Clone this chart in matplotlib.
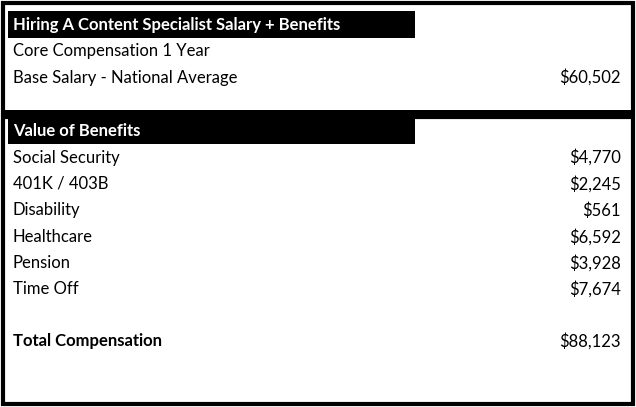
import matplotlib
matplotlib.use("Agg")
import matplotlib.pyplot as plt
from matplotlib.patches import Rectangle

title1 = "Hiring A Content Specialist Salary + Benefits"
top_labels = ["Core Compensation 1 Year", "Base Salary - National Average"]
top_values = ["", "$60,502"]
title2 = "Value of Benefits"
benefit_labels = ["Social Security", "401K / 403B", "Disability", "Healthcare", "Pension", "Time Off"]
benefit_values = ["$4,770", "$2,245", "$561", "$6,592", "$3,928", "$7,674"]
total_label = "Total Compensation"
total_value = "$88,123"

fig = plt.figure(figsize=(6.36, 4.07), dpi=100)
ax = fig.add_axes([0, 0, 1, 1])
ax.set_xlim(0, 636); ax.set_ylim(407, 0); ax.axis("off")
FONT = "Lato"; FS = 12

# boxes
ax.add_patch(Rectangle((2.5, 2.5), 630, 110, fill=False, lw=3, ec="black"))
ax.add_patch(Rectangle((2.5, 117), 630, 287, fill=False, lw=3, ec="black"))
ax.add_patch(Rectangle((2.5, 110), 630, 8, color="black", lw=0))
# headers
ax.add_patch(Rectangle((8, 11), 407, 27, color="black", lw=0))
ax.add_patch(Rectangle((8, 118), 407, 26, color="black", lw=0))
ax.text(13, 25, title1, color="white", fontweight="bold", fontsize=FS, family=FONT, va="center")
ax.text(13, 131, title2, color="white", fontweight="bold", fontsize=FS, family=FONT, va="center")

for i, (l, v) in enumerate(zip(top_labels, top_values)):
    y = 51 + i * 26.5
    ax.text(13, y, l, fontsize=FS, family=FONT, va="center")
    ax.text(621, y, v, fontsize=FS, family=FONT, va="center", ha="right")
for i, (l, v) in enumerate(zip(benefit_labels, benefit_values)):
    y = 157.5 + i * 26.4
    ax.text(13, y, l, fontsize=FS, family=FONT, va="center")
    ax.text(621, y, v, fontsize=FS, family=FONT, va="center", ha="right")
ax.text(13, 341, total_label, fontsize=FS, family=FONT, va="center", fontweight="bold")
ax.text(621, 341, total_value, fontsize=FS, family=FONT, va="center", ha="right")

fig.savefig("out.png", dpi=100)
